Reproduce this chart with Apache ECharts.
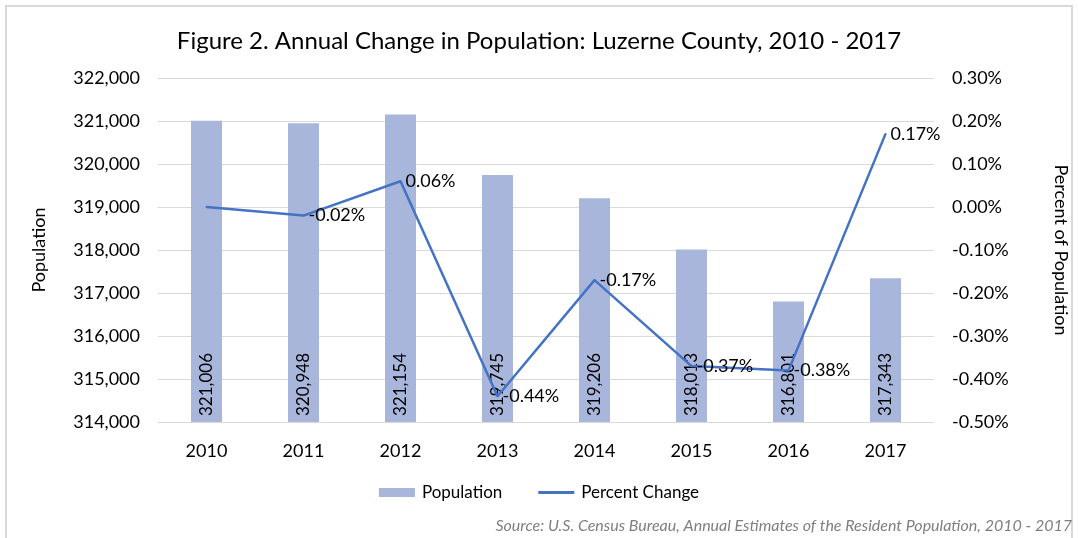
<!DOCTYPE html>
<html>
<head>
<meta charset="utf-8">
<script src="https://cdn.jsdelivr.net/npm/echarts@6/dist/echarts.min.js"></script>
<style>
html, body { margin: 0; padding: 0; background: #fff; }
#chart { width: 1078px; height: 538px; }
</style>
</head>
<body>
<div id="chart"></div>
<script>
const years = ['2010', '2011', '2012', '2013', '2014', '2015', '2016', '2017'];
const population = [321006, 320948, 321154, 319745, 319206, 318013, 316801, 317343];
const percentChange = [0.00, -0.02, 0.06, -0.44, -0.17, -0.37, -0.38, 0.17];

const font = 'Lato, "Open Sans", sans-serif';

let myChart = echarts.init(document.getElementById('chart'));
let option = {
    textStyle: { fontFamily: font },
    title: {
        text: 'Figure 2. Annual Change in Population: Luzerne County, 2010 - 2017',
        left: 'center',
        top: 24,
        textStyle: { fontFamily: font, fontSize: 24, fontWeight: 'normal', color: '#000' }
    },
    graphic: [
        {
            type: 'rect',
            shape: { x: 6, y: 6, width: 1066, height: 540 },
            style: { fill: 'none', stroke: '#d9d9d9', lineWidth: 2 }
        },
        {
            type: 'text',
            right: 6,
            top: 518,
            style: {
                text: 'Source: U.S. Census Bureau, Annual Estimates of the Resident Population, 2010 - 2017',
                font: 'italic 16px ' + font,
                fill: '#7f7f7f'
            }
        }
    ],
    legend: {
        bottom: 32,
        left: 'center',
        itemGap: 36,
        itemWidth: 36,
        itemHeight: 9,
        textStyle: { fontFamily: font, fontSize: 17, color: '#000', padding: [0, 0, 0, 2] },
        data: [
            { name: 'Population', icon: 'rect' },
            { name: 'Percent Change', icon: 'path://M0,3 L36,3 L36,6 L0,6 Z', itemStyle: { color: '#4472c4' } }
        ]
    },
    grid: { left: 158, right: 136, top: 78, bottom: 116 },
    xAxis: {
        type: 'category',
        data: years,
        axisTick: { show: false },
        axisLine: { show: true, lineStyle: { color: '#d9d9d9', width: 1 } },
        axisLabel: { color: '#000', fontSize: 18, margin: 20, fontFamily: font }
    },
    yAxis: [
        {
            type: 'value',
            min: 314000,
            max: 322000,
            interval: 1000,
            name: 'Population',
            nameLocation: 'middle',
            nameGap: 110,
            nameTextStyle: { color: '#000', fontSize: 18, fontFamily: font },
            axisLine: { show: false },
            axisTick: { show: false },
            axisLabel: {
                color: '#000', fontSize: 18, margin: 18, fontFamily: font,
                formatter: v => v.toLocaleString('en-US')
            },
            splitLine: { lineStyle: { color: '#d9d9d9', width: 1 } }
        },
        {
            type: 'value',
            min: -0.5,
            max: 0.3,
            interval: 0.1,
            name: 'Percent of Population',
            nameLocation: 'middle',
            nameGap: 118,
            nameRotate: -90,
            nameTextStyle: { color: '#000', fontSize: 18, fontFamily: font },
            axisLine: { show: false },
            axisTick: { show: false },
            axisLabel: {
                color: '#000', fontSize: 18, margin: 18, fontFamily: font,
                formatter: v => v.toFixed(2) + '%'
            },
            splitLine: { show: false }
        }
    ],
    series: [
        {
            name: 'Population',
            type: 'bar',
            data: population,
            barWidth: 31,
            itemStyle: { color: '#a9b6dc' },
            label: {
                show: true,
                position: 'insideBottom',
                rotate: 90,
                align: 'left',
                verticalAlign: 'middle',
                distance: 6,
                color: '#000',
                fontSize: 17,
                fontFamily: font,
                formatter: p => p.value.toLocaleString('en-US')
            },
            z: 2
        },
        {
            name: 'Percent Change',
            type: 'line',
            yAxisIndex: 1,
            data: percentChange.map((v, i) => ({
                value: v,
                label: { show: i !== 0 }
            })),
            symbol: 'circle',
            symbolSize: 2,
            showSymbol: true,
            lineStyle: { color: '#4472c4', width: 2.5 },
            itemStyle: { color: '#4472c4' },
            label: {
                show: true,
                position: 'right',
                distance: 4,
                color: '#000',
                fontSize: 18,
                fontFamily: font,
                formatter: p => p.value.toFixed(2) + '%'
            },
            labelLayout: { hideOverlap: false },
            z: 3
        }
    ]
};
myChart.setOption(option);
</script>
</body>
</html>
